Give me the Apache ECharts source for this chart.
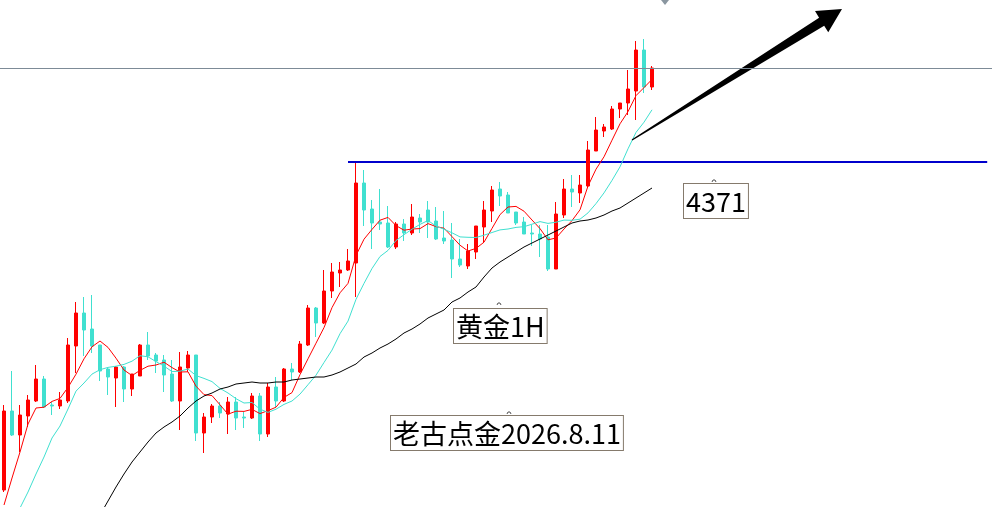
<!DOCTYPE html>
<html style="height: 100%">
<head>
<meta charset="utf-8">
<title>黄金1H</title>
<script src="https://cdn.jsdelivr.net/npm/echarts@6/dist/echarts.min.js"></script>
</head>
<body style="height: 100%; margin: 0; background: #fff">
<div id="container" style="width: 996px; height: 507px"></div>
<script type="text/javascript">
// gold 1H candles
var opens = [4043,4122,4098,4117,4132,4154,4128,4127,4132,4187,4220,4204,4188,4164,4155,4166,4144,4157,4188,4178,
    4173,4159,4132,4165,4178,4100,4116,4127,4119,4131,4116,4115,4137,4099,4146,4132,4164,4161,4188,4225,
    4210,4242,4260,4263,4270,4350,4324,4311,4310,4286,4309,4300,4315,4323,4312,4295,4293,4274,4267,4281,
    4306,4322,4344,4338,4321,4311,4300,4299,4296,4264,4318,4344,4340,4347,4382,4402,4404,4424,4430,4442,
    4483,4446];
var closes = [4122,4098,4118,4133,4154,4126,4127,4133,4188,4220,4203,4187,4162,4156,4166,4144,4159,4188,4177,4172,
    4158,4132,4166,4178,4100,4116,4127,4120,4131,4115,4115,4137,4099,4146,4132,4164,4161,4189,4225,4210,
    4242,4261,4263,4272,4350,4323,4310,4309,4286,4309,4300,4316,4311,4311,4294,4292,4274,4268,4282,4307,
    4323,4343,4337,4320,4310,4299,4299,4294,4264,4319,4344,4341,4348,4383,4403,4406,4424,4430,4444,4483,
    4446,4465];
var lows = [4041,4097,4081,4106,4131,4125,4118,4124,4130,4160,4177,4180,4152,4138,4126,4131,4137,4157,4173,4160,
    4141,4131,4103,4161,4092,4080,4110,4115,4099,4103,4105,4114,4092,4096,4126,4131,4153,4160,4187,4196,
    4209,4235,4246,4262,4236,4307,4284,4303,4285,4284,4292,4298,4300,4295,4293,4289,4255,4266,4264,4274,
    4290,4311,4327,4320,4308,4299,4287,4276,4262,4264,4315,4326,4330,4346,4382,4396,4403,4415,4418,4413,
    4440,4443];
var highs = [4128,4162,4128,4138,4168,4157,4131,4141,4195,4231,4236,4238,4188,4165,4167,4167,4159,4189,4201,4180,
    4178,4173,4181,4182,4178,4120,4129,4131,4136,4136,4121,4140,4140,4150,4156,4165,4170,4192,4228,4226,
    4263,4270,4271,4284,4370,4363,4333,4344,4327,4311,4314,4329,4319,4332,4326,4322,4310,4294,4289,4307,
    4332,4347,4351,4341,4321,4316,4308,4308,4308,4331,4354,4358,4358,4392,4416,4409,4427,4430,4463,4492,
    4494,4467];

// moving averages as drawn (red fast, turquoise slow, black long)
var maFast = [4028,4055,4081,4109,4125,4125.8,4131.6,4134.6,4145.6,4158.8,4174.2,4186.2,4192,4185.6,4174.8,4163,4157.4,4162.6,4166.8,4168,
    4170.8,4165.4,4161,4161.2,4146.8,4138.4,4137.4,4128.2,4118.8,4121.8,4121.6,4123.6,4119.4,4122.4,4125.8,4135.6,4140.4,4158.4,4174.2,4189.8,
    4205.4,4225.4,4240.2,4249.6,4277.6,4293.8,4303.6,4312.8,4315.6,4307.4,4302.8,4304,4304.4,4309.4,4306.4,4304.8,4296.4,4287.8,4282,4284.6,
    4290.8,4304.6,4318.4,4326,4326.6,4321.8,4313,4304.4,4293.2,4295,4304,4312.4,4323.2,4347,4363.8,4376.2,4392.8,4409.2,4421.4,4437.4,
    4445.4,4453.6];
var maSlow = [3993,4009,4025,4041,4059,4076,4095,4107,4124,4141.9,4150,4158.9,4163.3,4165.6,4166.8,4168.6,4171.8,4177.3,4176.2,4171.4,
    4166.9,4161.4,4161.8,4164,4157.4,4154.6,4151.4,4144.6,4140,4134.3,4130,4130.5,4123.8,4120.6,4123.8,4128.6,4132,4138.9,4148.3,4157.8,
    4170.5,4182.9,4199.3,4211.9,4233.7,4249.6,4264.5,4276.5,4282.6,4292.5,4298.3,4303.8,4308.6,4312.5,4306.9,4303.8,4300.2,4296.1,4295.7,4295.5,
    4297.8,4300.5,4303.1,4304,4305.6,4306.3,4308.8,4311.4,4309.6,4310.8,4312.9,4312.7,4313.8,4320.1,4329.4,4340.1,4352.6,4366.2,4384.2,4400.6,
    4410.8,4423.2];
var maLong = ['-','-','-','-','-','-','-','-','-','-','-',4004,4018,4032,4046,4059,4071,4081,4091,4100,
    4106,4111,4117,4125,4132,4137,4140,4144,4146,4149,4150,4151,4150,4150,4151,4151,4153,4154,4155,4156,
    4156,4158,4161,4165,4169,4176,4180,4185,4189,4194,4200,4204,4209,4215,4219,4223,4231,4235,4241,4246,
    4256,4265,4271,4276,4281,4286,4290,4294,4298,4302,4306,4310,4312,4313,4315,4318,4322,4325,4330,4335,
    4340,4345];

var slots = 124;          // visible bar slots, chart space to the right stays empty
var resistance = 4371;    // blue line
var lastPrice = 4465;     // grey price line
var resistanceFrom = 43;
var resistanceTo = 122.9;
var arrowFrom = [78.5, 4393];
var arrowTo = [104.75, 4524];

var categories = [];
for (var i = 0; i < slots; i++) {
    categories.push(String(i));
}
var candles = [];
for (var i = 0; i < opens.length; i++) {
    candles.push([opens[i], closes[i], lows[i], highs[i]]);
}

function renderArrow(params, api) {
    var a = api.coord([api.value(0), api.value(1)]);
    var b = api.coord([api.value(2), api.value(3)]);
    var dx = b[0] - a[0], dy = b[1] - a[1];
    var len = Math.sqrt(dx * dx + dy * dy);
    var ux = dx / len, uy = dy / len;
    var nx = -uy, ny = ux;
    var headLen = 24, headHalf = 12.5, shaftHalf = 4.8, tailHalf = 0.6;
    var hx = b[0] - ux * headLen, hy = b[1] - uy * headLen;
    var pts = [
        [a[0] + nx * tailHalf, a[1] + ny * tailHalf],
        [hx + nx * shaftHalf, hy + ny * shaftHalf],
        [hx + nx * headHalf, hy + ny * headHalf],
        b,
        [hx - nx * headHalf, hy - ny * headHalf],
        [hx - nx * shaftHalf, hy - ny * shaftHalf],
        [a[0] - nx * tailHalf, a[1] - ny * tailHalf]
    ];
    return {
        type: 'polygon',
        shape: { points: pts },
        style: { fill: '#000' }
    };
}

var dom = document.getElementById('container');
var myChart = echarts.init(dom);
var labelFont = '27px "Noto Sans CJK SC", "Noto Sans", sans-serif';
var boxStyle = {
    font: labelFont,
    fill: '#000',
    backgroundColor: '#fff',
    borderColor: '#857a6c',
    borderWidth: 1,
    padding: [4, 2, 3, 2]
};
// little anchor ticks MT4 draws above each text object
function anchor(x, y) {
    return {
        type: 'polyline', silent: true,
        shape: { points: [[x - 2, y + 2], [x - 1, y], [x + 1, y], [x + 2, y + 2]] },
        style: { stroke: '#555', lineWidth: 1, fill: null }
    };
}

var option = {
    animation: false,
    backgroundColor: '#fff',
    grid: { left: 0, right: 4, top: 0, bottom: 0 },
    xAxis: [{
        type: 'category',
        data: categories,
        boundaryGap: true,
        show: false
    }, {
        type: 'value',
        min: -0.5,
        max: slots - 0.5,
        show: false
    }],
    yAxis: {
        type: 'value',
        min: 4026,
        max: 4533,
        show: false,
        splitLine: { show: false }
    },
    series: [{
        type: 'line',
        xAxisIndex: 1,
        data: [[resistanceFrom, resistance], [resistanceTo, resistance]],
        symbol: 'none',
        lineStyle: { color: '#0000cc', width: 2 },
        z: 1
    }, {
        type: 'candlestick',
        data: candles,
        barWidth: 4,
        itemStyle: {
            color: '#ff0000',
            color0: '#40e0d0',
            borderColor: '#ff0000',
            borderColor0: '#40e0d0',
            borderWidth: 1
        },
        markLine: {
            silent: true,
            symbol: 'none',
            label: { show: false },
            lineStyle: { color: '#7d8b97', width: 1, type: 'solid' },
            data: [{ yAxis: lastPrice }]
        },
        z: 2
    }, {
        type: 'line',
        data: maFast,
        symbol: 'none',
        lineStyle: { color: '#ff0000', width: 1 },
        z: 3
    }, {
        type: 'line',
        data: maSlow,
        symbol: 'none',
        lineStyle: { color: '#40e0d0', width: 1 },
        z: 3
    }, {
        type: 'line',
        data: maLong,
        symbol: 'none',
        lineStyle: { color: '#000', width: 1 },
        z: 3
    }, {
        type: 'custom',
        xAxisIndex: 1,
        renderItem: renderArrow,
        encode: { x: [0, 2], y: [1, 3] },
        data: [[arrowFrom[0], arrowFrom[1], arrowTo[0], arrowTo[1]]],
        z: 4
    }],
    graphic: [{
        type: 'text', left: 683, top: 183,
        style: Object.assign({ text: '4371' }, boxStyle)
    }, {
        type: 'text', left: 453, top: 308,
        style: Object.assign({ text: '黄金1H' }, boxStyle)
    }, {
        type: 'text', left: 390, top: 415,
        style: Object.assign({ text: '老古点金2026.8.11' }, boxStyle)
    },
    anchor(714, 180), anchor(499, 303), anchor(509, 412),
    {
        type: 'polygon', silent: true,
        shape: { points: [[661, 0], [669, 0], [665, 5]] },
        style: { fill: '#8a96a0' }
    }]
};

if (option && typeof option === 'object') {
    myChart.setOption(option);
}
</script>
</body>
</html>
